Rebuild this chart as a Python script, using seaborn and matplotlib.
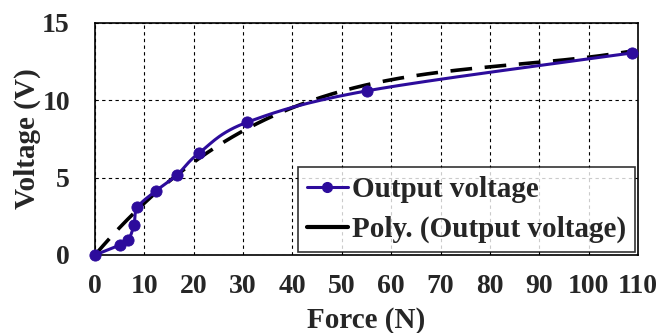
import numpy as np
import matplotlib
matplotlib.use("Agg")
import matplotlib.pyplot as plt
import seaborn as sns
import pandas as pd
from matplotlib.lines import Line2D

force = [0.0, 5.1, 6.75, 7.9, 8.6, 12.4, 16.6, 21.1, 30.8, 55.2, 108.7]
voltage = [0.0, 0.65, 0.97, 1.94, 3.08, 4.16, 5.17, 6.6, 8.58, 10.62, 13.06]
xticks = [0, 10, 20, 30, 40, 50, 60, 70, 80, 90, 100, 110]
yticks = [0, 5, 10, 15]
series_name = "Output voltage"
trend_name = "Poly. (Output voltage)"
# polynomial trendline coefficients (highest power first)
trend_coef = [1.569e-5, -0.004034, 0.3744, 0.0]

sns.set_theme(style="white")
plt.rcParams['font.family'] = ['Liberation Serif', 'DejaVu Serif']
plt.rcParams['font.weight'] = 'bold'

purple = '#2D0C9C'

df = pd.DataFrame({"Force": force, "Voltage": voltage})

# Smooth line (Catmull-Rom through the data points)
def catmull(xs, ys, n=30):
    P = np.column_stack([xs, ys])
    P = np.vstack([P[0], P, P[-1]])
    out = []
    for i in range(1, len(P) - 2):
        p0, p1, p2, p3 = P[i - 1], P[i], P[i + 1], P[i + 2]
        t = np.linspace(0, 1, n)[:, None]
        pts = 0.5 * ((2 * p1) + (-p0 + p2) * t + (2 * p0 - 5 * p1 + 4 * p2 - p3) * t ** 2
                     + (-p0 + 3 * p1 - 3 * p2 + p3) * t ** 3)
        out.append(pts)
    out = np.vstack(out)
    return out[:, 0], out[:, 1]

sx, sy = catmull(np.array(force), np.array(voltage))
smooth = pd.DataFrame({"Force": sx, "Voltage": sy})

fx = np.linspace(0, max(force), 200)
trend = pd.DataFrame({"Force": fx, "Voltage": np.polyval(trend_coef, fx)})

fig, ax = plt.subplots(figsize=(6.62, 3.33), dpi=100)
fig.subplots_adjust(left=95/662, right=638/662, top=1-23/333, bottom=1-255/333)

sns.lineplot(data=smooth, x="Force", y="Voltage", ax=ax, color=purple, lw=2.2,
             sort=False, estimator=None, zorder=3)
sns.scatterplot(data=df, x="Force", y="Voltage", ax=ax, color=purple, s=65,
                edgecolor=purple, zorder=4, clip_on=False)
sns.lineplot(data=trend, x="Force", y="Voltage", ax=ax, color='black', lw=2.6,
             dashes=False, zorder=2)
ax.lines[-1].set_dashes([6, 3.5])

ax.set_xlim(0, 110)
ax.set_ylim(0, 15)
ax.set_xticks(xticks)
ax.set_yticks(yticks)
ax.set_xticklabels([str(t) for t in xticks], fontsize=20, fontweight='bold')
ax.set_yticklabels([str(t) for t in yticks], fontsize=20, fontweight='bold')
ax.tick_params(axis='x', length=0, pad=14)
ax.tick_params(axis='y', length=0, pad=18)
ax.grid(True, color='black', linestyle=(0, (3, 3)), linewidth=0.8)
for s in ax.spines.values():
    s.set_color('black')
    s.set_linewidth(1.2)
ax.set_xlabel("Force (N)", fontsize=21, fontweight='bold')
ax.xaxis.set_label_coords(0.5, -0.225)
ax.set_ylabel("Voltage (V)", fontsize=21, fontweight='bold')
ax.yaxis.set_label_coords(-0.10, 0.5)

handles = [Line2D([], [], color=purple, lw=2.2, marker='o', markersize=7),
           Line2D([], [], color='black', lw=3)]
leg = ax.legend(handles, [series_name, trend_name], loc='lower right',
                bbox_to_anchor=(1.0, 0.0), fontsize=21, frameon=True, fancybox=False,
                edgecolor='black', handlelength=1.4, handletextpad=0.15,
                borderpad=0.3, labelspacing=0.45, borderaxespad=0.1)
leg.get_frame().set_linewidth(1.2)
for t in leg.get_texts():
    t.set_fontweight('bold')

fig.savefig("out.png", dpi=100)
